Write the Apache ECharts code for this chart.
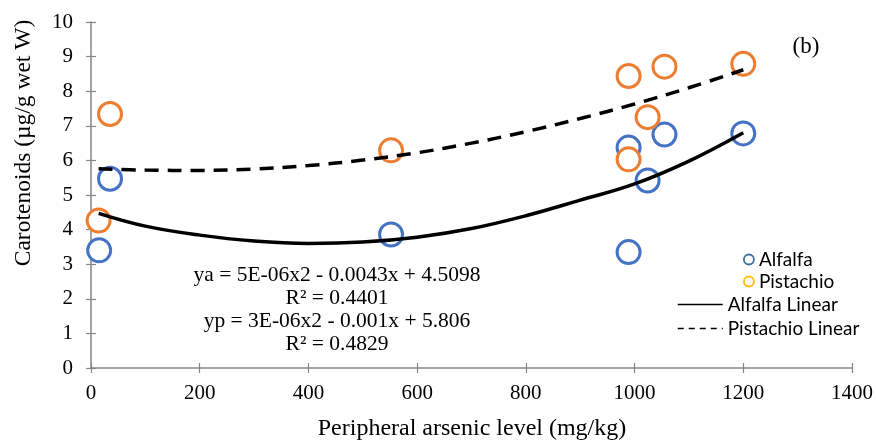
<!DOCTYPE html>
<html><head><meta charset="utf-8">
<script src="https://cdn.jsdelivr.net/npm/echarts@6/dist/echarts.min.js"></script>
<style>html,body{margin:0;padding:0;background:#fff}#c{width:876px;height:441px}</style>
</head><body><div id="c"></div>
<script>
// Scatter data
const alfalfaX = [15, 35, 552, 989, 989, 1024, 1055, 1200];
const alfalfaY = [3.40, 5.47, 3.86, 6.37, 3.35, 5.42, 6.75, 6.78];
const pistachioX = [14, 35, 552, 989, 989, 1024, 1055, 1200];
const pistachioY = [4.26, 7.34, 6.29, 8.44, 6.03, 7.25, 8.71, 8.79];
// Trend curves
const trendX = [14, 100, 200, 300, 400, 500, 600, 700, 800, 900, 1000, 1100, 1200];
const alfalfaTrendY = [4.47, 4.10, 3.84, 3.67, 3.60, 3.64, 3.78, 4.03, 4.40, 4.85, 5.32, 5.98, 6.80];
const pistachioTrendY = [5.76, 5.72, 5.71, 5.75, 5.85, 6.01, 6.22, 6.50, 6.83, 7.21, 7.63, 8.10, 8.62];
// Texts
const equations = ['ya = 5E-06x2 - 0.0043x + 4.5098', 'R² = 0.4401', 'yp = 3E-06x2 - 0.001x + 5.806', 'R² = 0.4829'];
const xTitle = 'Peripheral arsenic level (mg/kg)';
const yTitle = 'Carotenoids (µg/g wet W)';
const panelLabel = '(b)';

const zip = (xs, ys) => xs.map((x, i) => [x, ys[i]]);
const serif = '"Liberation Serif", "Times New Roman", serif';
const sans = 'Lato, "Open Sans", sans-serif';
const axisGray = '#868686';

const chart = echarts.init(document.getElementById('c'));
const grid = { left: 91, right: 22, top: 22, bottom: 73 };
const xBase = { type: 'value', min: 0, max: 1400, interval: 200, splitLine: { show: false } };
const yBase = { type: 'value', min: 0, max: 10, interval: 1, splitLine: { show: false } };
const eqText = (i, y) => ({ type: 'text', x: 337, y: y,
  style: { text: equations[i], font: '21.5px ' + serif, fill: '#000', textAlign: 'center', textVerticalAlign: 'middle' } });
chart.setOption({
  backgroundColor: '#fff',
  animation: false,
  grid: grid,
  xAxis: [
    Object.assign({}, xBase, {
      axisLine: { lineStyle: { color: axisGray, width: 1.5 } },
      axisTick: { length: 5, lineStyle: { color: axisGray, width: 1.2 } },
      axisLabel: { color: '#000', fontFamily: serif, fontSize: 21, margin: 15, formatter: v => String(v) }
    }),
    Object.assign({}, xBase, {
      position: 'bottom',
      axisLine: { show: false },
      axisTick: { inside: true, length: 5, lineStyle: { color: axisGray, width: 1.2 } },
      axisLabel: { show: false }
    })
  ],
  yAxis: [
    Object.assign({}, yBase, {
      axisLine: { show: true, lineStyle: { color: axisGray, width: 1.5 } },
      axisTick: { show: true, length: 5, lineStyle: { color: axisGray, width: 1.2 } },
      axisLabel: { color: '#000', fontFamily: serif, fontSize: 21, margin: 18 }
    }),
    Object.assign({}, yBase, {
      position: 'left',
      axisLine: { show: false },
      axisTick: { show: true, inside: true, length: 5, lineStyle: { color: axisGray, width: 1.2 } },
      axisLabel: { show: false }
    })
  ],
  legend: [
    {
      orient: 'vertical', left: 738, top: 245, itemWidth: 10, itemHeight: 10, itemGap: 3,
      textStyle: { fontFamily: sans, fontSize: 19, color: '#000' },
      data: [
        { name: 'Alfalfa', icon: 'circle', itemStyle: { color: '#fff', borderColor: '#41719C', borderWidth: 1.8 } },
        { name: 'Pistachio', icon: 'circle', itemStyle: { color: '#fff', borderColor: '#FFC000', borderWidth: 1.8 } }
      ]
    },
    {
      orient: 'vertical', left: 672, top: 290, itemWidth: 45, itemHeight: 12, itemGap: 5,
      textStyle: { fontFamily: sans, fontSize: 19, color: '#000' },
      data: [
        { name: 'Alfalfa Linear', itemStyle: { opacity: 0 }, lineStyle: { width: 1.5, color: '#000', type: 'solid' } },
        { name: 'Pistachio Linear', itemStyle: { opacity: 0 }, lineStyle: { width: 1.5, color: '#000', type: [6, 5] } }
      ]
    }
  ],
  graphic: [
    { type: 'text', x: 24, y: 143, rotation: Math.PI / 2,
      style: { text: yTitle, font: '23.5px ' + serif, fill: '#000', textAlign: 'center', textVerticalAlign: 'middle' } },
    { type: 'text', x: 472, y: 429,
      style: { text: xTitle, font: '24px ' + serif, fill: '#000', textAlign: 'center', textVerticalAlign: 'middle' } },
    { type: 'text', x: 806, y: 47,
      style: { text: panelLabel, font: '23px ' + serif, fill: '#000', textAlign: 'center', textVerticalAlign: 'middle' } },
    eqText(0, 275), eqText(1, 298), eqText(2, 321), eqText(3, 344)
  ],
  series: [
    { name: 'Alfalfa', type: 'scatter', data: zip(alfalfaX, alfalfaY), symbol: 'circle', symbolSize: 23, z: 2,
      itemStyle: { color: '#fff', borderColor: '#4472C4', borderWidth: 3, opacity: 1 } },
    { name: 'Pistachio', type: 'scatter', data: zip(pistachioX, pistachioY), symbol: 'circle', symbolSize: 23, z: 3,
      itemStyle: { color: '#fff', borderColor: '#ED7D31', borderWidth: 3, opacity: 1 } },
    { name: 'Alfalfa Linear', type: 'line', data: zip(trendX, alfalfaTrendY), smooth: 0.4, showSymbol: false, symbol: 'none', z: 5,
      lineStyle: { color: '#000', width: 3.5, type: 'solid' }, itemStyle: { color: '#000' } },
    { name: 'Pistachio Linear', type: 'line', data: zip(trendX, pistachioTrendY), smooth: 0.4, showSymbol: false, symbol: 'none', z: 5,
      lineStyle: { color: '#000', width: 3.5, type: [14, 9] }, itemStyle: { color: '#000' } }
  ]
});
</script>
</body></html>
